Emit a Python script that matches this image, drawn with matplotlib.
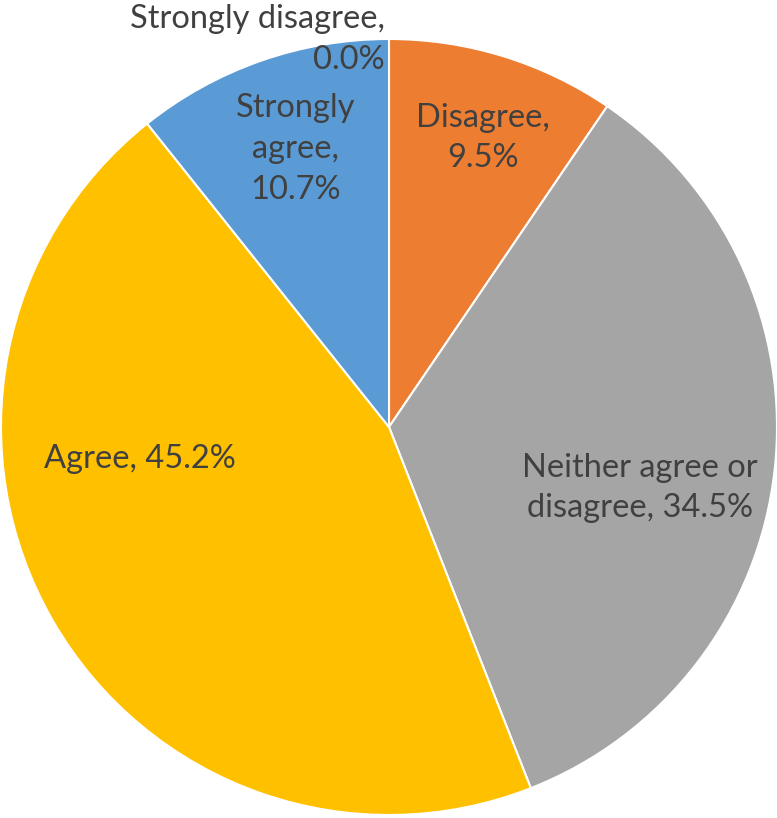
import matplotlib
matplotlib.use("Agg")
import matplotlib.pyplot as plt

categories = ["Strongly disagree", "Disagree", "Neither agree or disagree", "Agree", "Strongly agree"]
shares = [0.0, 9.5, 34.5, 45.2, 10.7]
label_texts = [
    "Strongly disagree,\n0.0%",
    "Disagree,\n9.5%",
    "Neither agree or\ndisagree, 34.5%",
    "Agree, 45.2%",
    "Strongly\nagree,\n10.7%",
]
colors = ["#4472C4", "#ED7D31", "#A5A5A5", "#FFC000", "#5B9BD5"]

plt.rcParams["font.family"] = ["Lato", "DejaVu Sans"]

fig = plt.figure(figsize=(7.77, 8.18), dpi=100)
# square axes, pie radius fills it
ax = fig.add_axes([1 / 777, 3 / 818, 776 / 777, 776 / 818])

ax.pie(shares, colors=colors, startangle=90, counterclock=False,
       radius=1, wedgeprops=dict(edgecolor="white", linewidth=1.5))
ax.set_xlim(-1, 1)
ax.set_ylim(-1, 1)
ax.set_aspect("equal")
ax.axis("off")

# label anchors (pie units) and alignment
label_pos = [(-0.01, 0.998), (0.242, 0.745), (0.647, -0.157), (-0.642, -0.082), (-0.240, 0.716)]
label_ha = ["right", "center", "center", "center", "center"]

for txt, (x, y), ha in zip(label_texts, label_pos, label_ha):
    ax.text(x, y, txt, ha=ha, va="center", multialignment=ha,
            fontsize=23.5, color="#404040", linespacing=1.45, clip_on=False)

fig.savefig("out.png", dpi=100)
